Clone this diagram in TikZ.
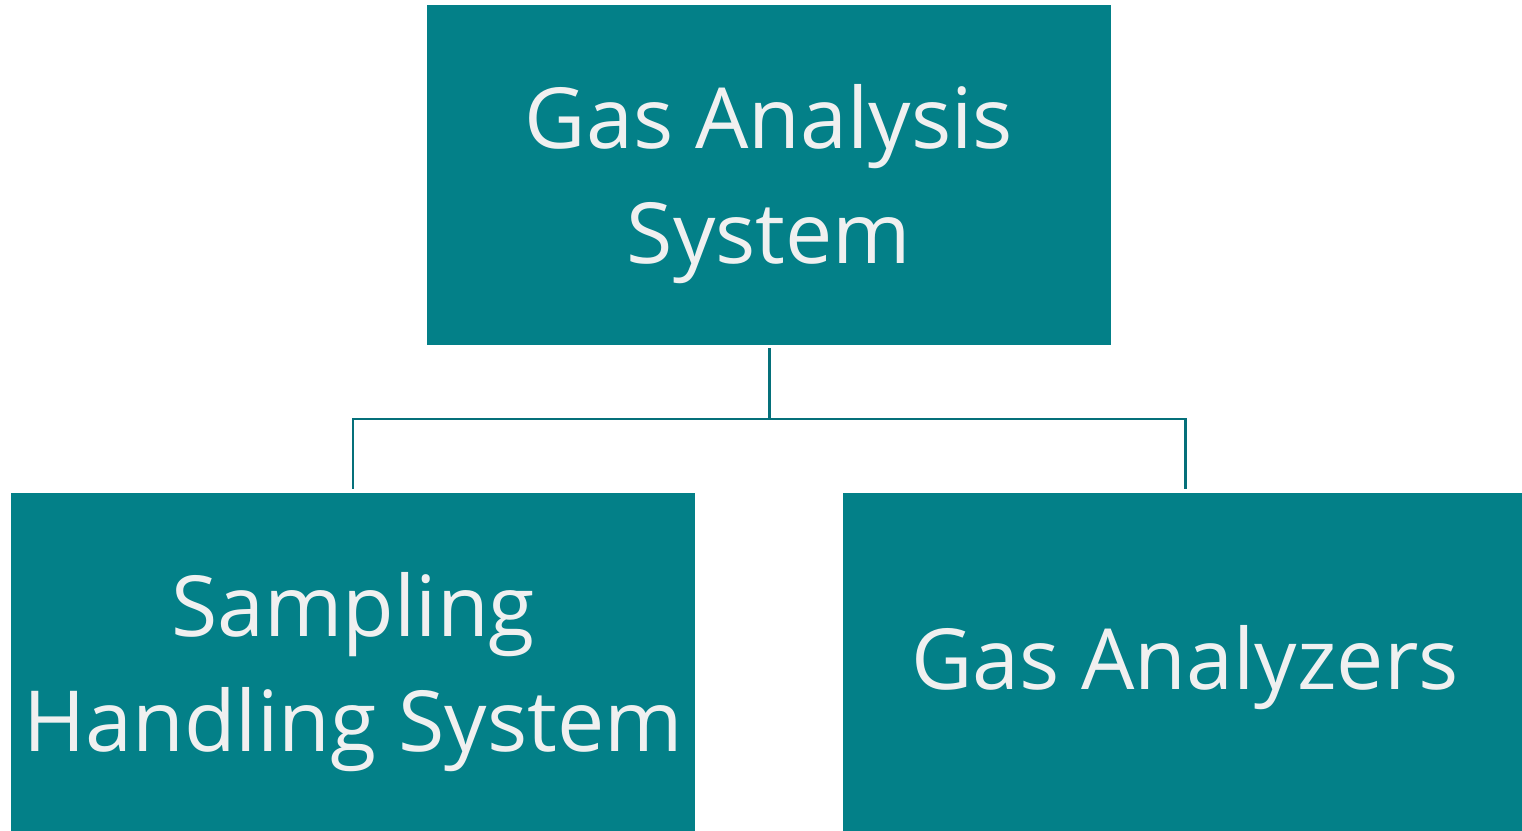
\documentclass[tikz,border=0pt]{standalone}
\usepackage{fontspec}
\setmainfont{Open Sans}
\usetikzlibrary{positioning}
\definecolor{tealbox}{HTML}{038088}
\definecolor{tealline}{HTML}{05707A}
\definecolor{boxtext}{HTML}{F0F0F0}
\tikzset{>=latex}
\tikzstyle{block} = [%
                    fill = tealbox,
                    minimum width = 13.68cm,
                    minimum height = 6.8cm,
                    inner sep = 0pt
                    ]
\tikzstyle{caption} = [%
                    text = boxtext,
                    align = center,
                    inner sep = 0pt,
                    font = \fontsize{48}{65.5}\selectfont
                    ]
\tikzstyle{link} = [line width = 1.7pt, color = tealline]

\begin{document}
\begin{tikzpicture}[x=0.02cm,y=-0.02cm]
    % page size, same proportions as the drawing area
    \useasboundingbox (0,0) rectangle (1522,831);
    \clip (0,0) rectangle (1522,831);

    % the three blocks of the tree
    \node[block] (gas)      at (769,175)  {};
    \node[block, minimum height=6.76cm] (sampling) at (353,662)  {};
    \node[block, minimum height=6.76cm] (analyzer) at (1185,662) {};

    % their texts, set a little below centre
    \node[caption, yshift=-0.18cm] (gastext)      at (gas)      {Gas Analysis\\System};
    \node[caption, yshift=-0.2cm]  (samplingtext) at (sampling) {Sampling\\Handling System};
    \node[caption, yshift=-0.12cm] (analyzertext) at (analyzer) {Gas Analyzers};

    % elbow connectors from the root to its children
    \coordinate (split) at (769,419);
    \draw[link] ([yshift=-0.06cm]gas.south) -- (split);
    \draw[link] (split) -| ([yshift=0.08cm]sampling.north);
    \draw[link] (split) -| ([yshift=0.08cm]analyzer.north);
\end{tikzpicture}
\end{document}
